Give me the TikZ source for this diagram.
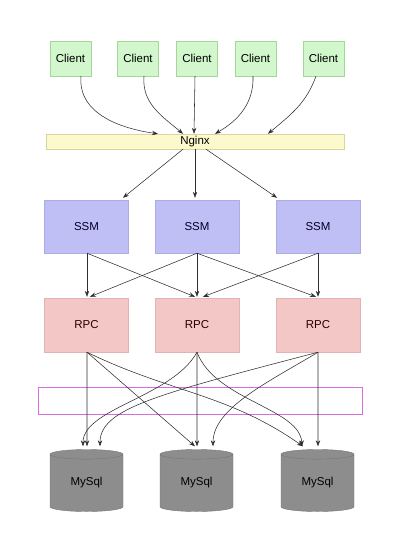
\documentclass[tikz,border=0pt]{standalone}
\usepackage{fontspec}
\setmainfont{Liberation Sans}
\usepackage{tikz}
\usetikzlibrary{shapes.geometric, arrows.meta, positioning}
\definecolor{clientgreen}{HTML}{D2F7CC}
\definecolor{clientedge}{HTML}{A6D69E}
\definecolor{nginxyellow}{HTML}{FCF9CC}
\definecolor{nginxedge}{HTML}{D9D5A3}
\definecolor{ssmblue}{HTML}{BFBFF6}
\definecolor{ssmedge}{HTML}{ADADE6}
\definecolor{rpcpink}{HTML}{F4C7C7}
\definecolor{rpcedge}{HTML}{E3B3B3}
\definecolor{dbgray}{HTML}{8D8D8D}
\definecolor{dbedge}{HTML}{767676}
\definecolor{cacheviolet}{HTML}{D96AE0}
\definecolor{wire}{HTML}{2E2E2E}

\begin{document}
\begin{tikzpicture}[
  x=1pt, y=-1pt,
  every node/.style={font=\fontsize{11.5}{13}\selectfont, inner sep=0pt},
  client/.style={draw=clientedge, fill=clientgreen, minimum width=41pt, minimum height=35pt},
  proxy/.style={draw=nginxedge, fill=nginxyellow, minimum width=298pt, minimum height=15pt},
  service/.style={draw=ssmedge, fill=ssmblue, minimum width=84pt, minimum height=53pt, text=black!85!blue},
  remote/.style={draw=rpcedge, fill=rpcpink, minimum width=84pt, minimum height=54pt, text=black!85!red},
  layer/.style={draw=cacheviolet, line width=0.9pt, minimum width=324pt, minimum height=27pt},
  database/.style={cylinder, shape border rotate=90, aspect=0.3, draw=dbedge, fill=dbgray,
    minimum width=73pt, minimum height=62pt},
  link/.style={draw=wire, line width=0.55pt, -{Stealth[length=6pt, width=4.4pt]}}
]
\useasboundingbox (0,0) rectangle (412,544);

% clients and proxy
\node[client] (c1) at (70.5,58.5) {Client};
\node[client] (c2) at (138,58.5) {Client};
\node[client] (c3) at (197,58.5) {Client};
\node[client] (c4) at (255.5,58.5) {Client};
\node[client] (c5) at (323.5,58.5) {Client};
\node[proxy] (nginx) at (195,141.5) {Nginx};

% services
\node[service] (ssm1) at (86.5,226.5) {SSM};
\node[service] (ssm2) at (197,226.5) {SSM};
\node[service] (ssm3) at (318,226.5) {SSM};
\node[remote] (rpc1) at (86.5,325) {RPC};
\node[remote] (rpc2) at (197,325) {RPC};
\node[remote] (rpc3) at (318,325) {RPC};

% empty layer and databases
\node[layer] (cache) at (200,400.5) {};
\node[database] (db1) at (86.5,483) {MySql};
\node[database] (db2) at (196.5,483) {MySql};
\node[database] (db3) at (317.5,483) {MySql};

% client -> nginx
\draw[link] ([xshift=10.5pt]c1.south) to[out=-95, in=172] ([xshift=-37pt]nginx.north);
\draw[link] ([xshift=6pt]c2.south) to[out=-95, in=140] ([xshift=-12pt]nginx.north);
\draw[link] ([xshift=-2pt]c3.south) -- ([xshift=-1pt]nginx.north);
\draw[link] ([xshift=-2.5pt]c4.south) to[out=-88, in=30] ([xshift=20pt]nginx.north);
\draw[link] ([xshift=-7.5pt]c5.south) to[out=-110, in=40] ([xshift=73pt]nginx.north);

% nginx -> ssm
\draw[link] ([xshift=-12pt]nginx.south) -- ([xshift=36.5pt,yshift=2pt]ssm1.north);
\draw[link] (nginx.south) -- ([xshift=-2pt,yshift=2pt]ssm2.north);
\draw[link] ([xshift=11pt]nginx.south) -- ([xshift=-41pt,yshift=2pt]ssm3.north);

% ssm -> rpc
\draw[link] ([xshift=0.5pt]ssm1.south) -- ([xshift=0.5pt,yshift=1pt]rpc1.north);
\draw[link] ([xshift=0.5pt]ssm1.south) -- ([xshift=-2pt,yshift=1pt]rpc2.north);
\draw[link] (ssm2.south) -- ([xshift=3.5pt,yshift=1pt]rpc1.north);
\draw[link] (ssm2.south) -- ([yshift=1pt]rpc2.north);
\draw[link] (ssm2.south) -- ([xshift=-2pt,yshift=1pt]rpc3.north);
\draw[link] (ssm3.south) -- ([xshift=6pt,yshift=1pt]rpc2.north);
\draw[link] (ssm3.south) -- ([yshift=1pt]rpc3.north);

% rpc -> mysql
\draw[link] ([xshift=0.5pt]rpc1.south) -- ([xshift=0.5pt,yshift=3pt]db1.north);
\draw[link] ([xshift=0.5pt]rpc1.south) -- ([xshift=-1.5pt,yshift=3pt]db2.north);
\draw[link] ([xshift=0.5pt]rpc1.south) to[out=-26, in=145] ([xshift=-14.5pt,yshift=3pt]db3.north);
\draw[link] (rpc2.south) .. controls +(-25,45) and +(0,-38) .. ([xshift=-3.5pt,yshift=3pt]db1.north);
\draw[link] (rpc2.south) -- ([xshift=0.5pt,yshift=3pt]db2.north);
\draw[link] (rpc2.south) .. controls +(18,48) and +(-2,-38) .. ([xshift=-15.5pt,yshift=3pt]db3.north);
\draw[link] (rpc3.south) .. controls +(-160,42) and +(0,-38) .. ([xshift=13.5pt,yshift=3pt]db1.north);
\draw[link] (rpc3.south) .. controls +(-50,30) and +(0,-38) .. ([xshift=16.5pt,yshift=3pt]db2.north);
\draw[link] (rpc3.south) -- ([xshift=0.5pt,yshift=3pt]db3.north);
\end{tikzpicture}
\end{document}
